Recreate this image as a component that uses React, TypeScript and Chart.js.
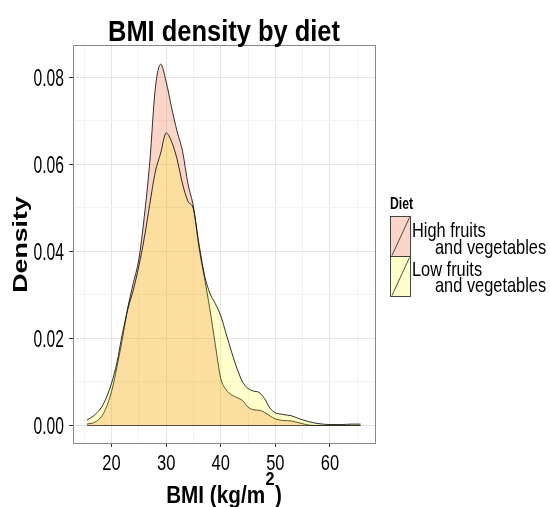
import { useEffect, useRef } from 'react';
import { Chart, registerables } from 'chart.js';

Chart.register(...registerables);

// BMI grid (kg/m2) shared by both density curves
const bmi = [
  15.5, 17, 18.5, 20, 21, 22, 23, 24, 25, 26, 27, 28, 29, 30, 31, 32, 33, 34, 35, 36,
  37, 38, 39, 40, 41, 42, 43, 44, 45, 46, 47, 48, 49, 50, 51, 52, 53, 54, 55, 56,
  57, 58, 60, 62, 64, 65.6,
];

// High fruits and vegetables
const densityHigh = [
  0.0003, 0.0008, 0.0027, 0.0078, 0.0135, 0.0200, 0.0272, 0.0328, 0.0382, 0.0480, 0.0605, 0.0773, 0.0830, 0.0790, 0.0730, 0.0676, 0.0630, 0.0555, 0.0502, 0.0410,
  0.0340, 0.0268, 0.0186, 0.0108, 0.0082, 0.0070, 0.0064, 0.0057, 0.0042, 0.0036, 0.0035, 0.0030, 0.0022, 0.0015, 0.0012, 0.0011, 0.0010, 0.0007, 0.0004, 0.0001,
  0.0, 0.0, 0.0, 0.0, 0.0, 0.0,
];

// Low fruits and vegetables
const densityLow = [
  0.0012, 0.0025, 0.0049, 0.0097, 0.0145, 0.0212, 0.0268, 0.0312, 0.0366, 0.0431, 0.0508, 0.0582, 0.0626, 0.0672, 0.0652, 0.0612, 0.0555, 0.0515, 0.0497, 0.0418,
  0.0347, 0.0304, 0.0280, 0.0252, 0.0210, 0.0168, 0.0130, 0.0100, 0.0085, 0.0079, 0.0076, 0.0062, 0.0040, 0.0029, 0.0026, 0.0024, 0.0022, 0.0017, 0.0013, 0.0009,
  0.0006, 0.0004, 0.0002, 0.0002, 0.0003, 0.0003,
];

const legendTitle = 'Diet';
const dietLabels = [
  ['High fruits', 'and vegetables'],
  ['Low fruits', 'and vegetables'],
];
const chartTitle = 'BMI density by diet';
const yTitle = 'Density';
const xTitleMain = 'BMI (kg/m';
const xTitleSup = '2';
const xTitleEnd = ')';

const xTickLabels = [20, 30, 40, 50, 60];
const yTickLabels = [0, 0.02, 0.04, 0.06, 0.08];
const xGrid = [15, 20, 25, 30, 35, 40, 45, 50, 55, 60, 65];
const yGrid = [0, 0.01, 0.02, 0.03, 0.04, 0.05, 0.06, 0.07, 0.08];

const fillHigh = 'rgba(245,115,75,0.3)';
const fillLow = 'rgba(255,255,0,0.2)';
const FONT = '"Liberation Sans", Arial, sans-serif';

function drawText(
  ctx: CanvasRenderingContext2D,
  s: string,
  x: number,
  y: number,
  font: string,
  sx: number,
  align: CanvasTextAlign,
  rot = 0,
) {
  ctx.save();
  ctx.translate(x, y);
  if (rot) ctx.rotate(rot);
  ctx.scale(sx, 1);
  ctx.font = font;
  ctx.textAlign = align;
  ctx.textBaseline = 'alphabetic';
  ctx.fillStyle = '#000';
  ctx.fillText(s, 0, 0);
  ctx.restore();
}

const decor = {
  id: 'decor',
  afterDatasetsDraw(chart: any) {
    const ctx: CanvasRenderingContext2D = chart.ctx;
    const xs = chart.scales.x;
    const ys = chart.scales.y;
    // bottom outline of the density polygons
    const y0 = Math.round(ys.getPixelForValue(0)) + 0.5;
    ctx.save();
    ctx.strokeStyle = 'rgba(40,40,40,0.8)';
    ctx.lineWidth = 1;
    ctx.beginPath();
    ctx.moveTo(xs.getPixelForValue(bmi[0]), y0);
    ctx.lineTo(xs.getPixelForValue(bmi[bmi.length - 1]), y0);
    ctx.stroke();
    ctx.restore();
  },
  afterDraw(chart: any) {
    const ctx: CanvasRenderingContext2D = chart.ctx;
    const a = chart.chartArea;
    const xs = chart.scales.x;
    const ys = chart.scales.y;
    // panel border
    ctx.save();
    ctx.strokeStyle = '#888';
    ctx.lineWidth = 1;
    ctx.strokeRect(a.left + 0.5, a.top + 0.5, a.right - a.left, a.bottom - a.top);
    ctx.restore();

    // tick labels
    yTickLabels.forEach((v) => {
      const py = ys.getPixelForValue(v);
      drawText(ctx, v.toFixed(2), a.left - 9, py + 8.5, `23px ${FONT}`, 0.68, 'right');
    });
    xTickLabels.forEach((v) => {
      const px = xs.getPixelForValue(v);
      drawText(ctx, String(v), px, a.bottom + 27, `22px ${FONT}`, 0.75, 'center');
    });

    // title
    const cx = (a.left + a.right) / 2;
    drawText(ctx, chartTitle, cx, 41, `bold 29px ${FONT}`, 0.878, 'center');

    // y title
    drawText(ctx, yTitle, 27, (a.top + a.bottom) / 2 + 0.5, `bold 21px ${FONT}`, 1.27, 'center', -Math.PI / 2);

    // x title with superscript
    ctx.save();
    const sx = 0.9;
    ctx.font = `bold 23px ${FONT}`;
    const w1 = ctx.measureText(xTitleMain).width;
    const w3 = ctx.measureText(xTitleEnd).width;
    ctx.font = `bold 18px ${FONT}`;
    const w2 = ctx.measureText(xTitleSup).width;
    ctx.restore();
    const total = (w1 + w2 + w3 + 1) * sx;
    let x0 = cx - total / 2;
    const base = 503;
    drawText(ctx, xTitleMain, x0, base, `bold 23px ${FONT}`, sx, 'left');
    x0 += (w1 + 0.5) * sx;
    drawText(ctx, xTitleSup, x0, base - 18, `bold 18px ${FONT}`, sx, 'left');
    x0 += (w2 + 0.5) * sx;
    drawText(ctx, xTitleEnd, x0, base, `bold 23px ${FONT}`, sx, 'left');

    // legend
    const lx = 390;
    drawText(ctx, legendTitle, lx, 209, `bold 17px ${FONT}`, 0.72, 'left');
    const fills = [fillHigh, fillLow];
    const keyTops = [216.5, 256.5];
    const baselines = [
      [237, 254],
      [276, 292],
    ];
    dietLabels.forEach((lines, i) => {
      const top = keyTops[i];
      ctx.save();
      ctx.fillStyle = '#fff';
      ctx.fillRect(lx + 0.5, top, 20, 40);
      ctx.fillStyle = fills[i];
      ctx.fillRect(lx + 0.5, top, 20, 40);
      ctx.strokeStyle = '#333';
      ctx.lineWidth = 0.9;
      ctx.strokeRect(lx + 0.5, top, 20, 40);
      ctx.beginPath();
      ctx.moveTo(lx + 2, top + 39);
      ctx.lineTo(lx + 19.5, top + 1);
      ctx.strokeStyle = '#222';
      ctx.lineWidth = 0.8;
      ctx.stroke();
      ctx.restore();
      drawText(ctx, lines[0], lx + 22, baselines[i][0], `21px ${FONT}`, 0.78, 'left');
      drawText(ctx, lines[1], lx + 45, baselines[i][1], `21px ${FONT}`, 0.78, 'left');
    });
  },
};

export default function App() {
  const ref = useRef<HTMLCanvasElement | null>(null);

  useEffect(() => {
    if (!ref.current) return;
    const chart = new Chart(ref.current, {
      type: 'line',
      data: {
        datasets: [
          {
            label: dietLabels[0].join(' '),
            data: bmi.map((x, i) => ({ x, y: densityHigh[i] })),
            fill: 'origin',
            backgroundColor: fillHigh,
            borderColor: 'rgba(0,0,0,0.9)',
            borderWidth: 0.9,
            pointRadius: 0,
            cubicInterpolationMode: 'monotone',
            order: 2,
          },
          {
            label: dietLabels[1].join(' '),
            data: bmi.map((x, i) => ({ x, y: densityLow[i] })),
            fill: 'origin',
            backgroundColor: fillLow,
            borderColor: 'rgba(0,0,0,0.9)',
            borderWidth: 0.9,
            pointRadius: 0,
            cubicInterpolationMode: 'monotone',
            order: 1,
          },
        ],
      },
      options: {
        animation: false,
        responsive: false,
        maintainAspectRatio: false,
        devicePixelRatio: 1,
        layout: { padding: { left: 0, top: 45, right: 175, bottom: 0 } },
        plugins: {
          legend: { display: false },
          tooltip: { enabled: false },
          title: { display: false },
        },
        scales: {
          x: {
            type: 'linear',
            min: 12.94,
            max: 68.25,
            afterBuildTicks: (s: any) => {
              s.ticks = xGrid.map((v) => ({ value: v }));
            },
            afterFit: (s: any) => {
              s.height = 64;
            },
            ticks: { display: false },
            border: { display: false },
            grid: {
              drawTicks: true,
              tickLength: 4,
              lineWidth: 1,
              color: (c: any) => (c.tick && c.tick.value % 10 === 0 ? '#e4e4e4' : '#f3f3f3'),
              tickColor: (c: any) => (c.tick && c.tick.value % 10 === 0 ? '#333' : 'rgba(0,0,0,0)'),
            },
          },
          y: {
            type: 'linear',
            min: -0.00404,
            max: 0.08742,
            afterBuildTicks: (s: any) => {
              s.ticks = yGrid.map((v) => ({ value: v }));
            },
            afterFit: (s: any) => {
              s.width = 73;
            },
            ticks: { display: false },
            border: { display: false },
            grid: {
              drawTicks: true,
              tickLength: 4,
              lineWidth: 1,
              color: (c: any) =>
                c.tick && Math.round(c.tick.value * 100) % 2 === 0 ? '#e4e4e4' : '#f3f3f3',
              tickColor: (c: any) =>
                c.tick && Math.round(c.tick.value * 100) % 2 === 0 ? '#333' : 'rgba(0,0,0,0)',
            },
          },
        },
      } as any,
      plugins: [decor],
    });
    return () => chart.destroy();
  }, []);

  return (
    <div style={{ position: 'fixed', left: 0, top: 0, width: 550, height: 507, background: '#fff' }}>
      <canvas ref={ref} width={550} height={507} />
    </div>
  );
}
